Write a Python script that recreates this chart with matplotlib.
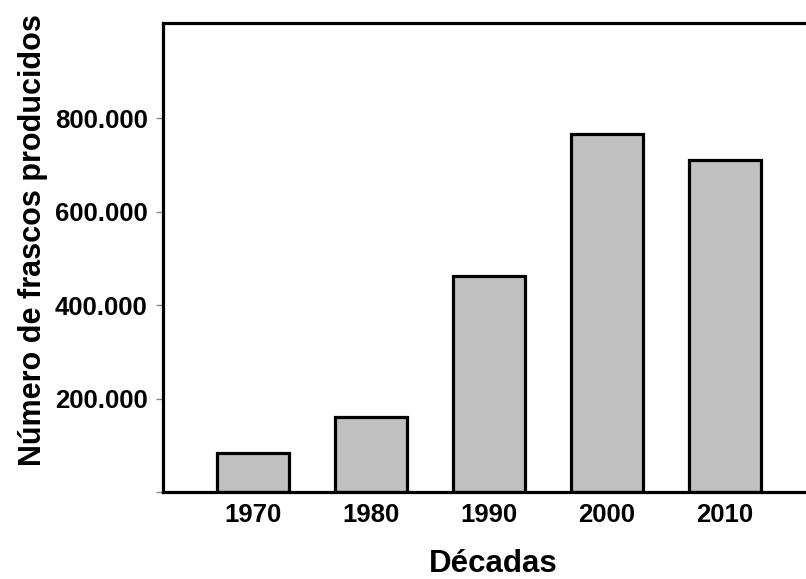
import matplotlib.pyplot as plt

# data
decades = ['1970', '1980', '1990', '2000', '2010']
frascos = [84000, 161000, 463000, 767000, 711000]
ytick_values = [0, 200000, 400000, 600000, 800000]
ytick_labels = ['', '200.000', '400.000', '600.000', '800.000']

plt.rcParams['font.family'] = ['Liberation Sans', 'DejaVu Sans']
plt.rcParams['font.weight'] = 'bold'

W, H = 806, 579
left, bottom, top = 163, 492, 23

fig = plt.figure(figsize=(W / 100, H / 100), dpi=100)
ax = fig.add_axes([left / W, (H - bottom) / H, 1 - left / W, (bottom - top) / H])

x = list(range(len(decades)))
ax.bar(x, frascos, width=0.61, color='#c0c0c0', edgecolor='black', linewidth=2.3)

ax.set_xlim(-0.76, 4.69)
ax.set_ylim(0, 1004000)
ax.set_xticks(x)
ax.set_xticklabels(decades, fontsize=18.5, fontweight='bold')
ax.set_yticks(ytick_values)
ax.set_yticklabels(ytick_labels, fontsize=18.5, fontweight='bold')
ax.tick_params(axis='x', length=0, pad=8)
ax.tick_params(axis='y', length=5, width=1, color='#888888', pad=6)

for side in ['left', 'top', 'bottom']:
    ax.spines[side].set_linewidth(2.3)
ax.spines['right'].set_visible(False)

ax.set_ylabel('Número de frascos producidos', fontsize=22, fontweight='bold')
ax.set_xlabel('Décadas', fontsize=22.5, fontweight='bold')
# y label: right edge near x=48 px, centred at y=240 px
ax.yaxis.set_label_coords((48 - left) / (W - left), (bottom - 240) / (bottom - top))
# x label: baseline near y=572 px, centred at x=493 px
ax.xaxis.label.set_va('baseline')
ax.xaxis.set_label_coords((493 - left) / (W - left), -(572 - bottom) / (bottom - top))

fig.savefig('out.png', dpi=100)
